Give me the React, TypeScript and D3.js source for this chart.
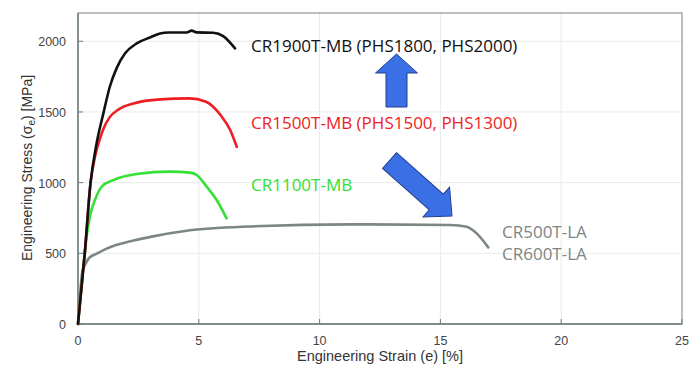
import * as d3 from "d3";
import React from "react";

const W = 700;
const H = 373;
const MARGIN = { left: 78, right: 18, top: 13, bottom: 49 };

const X_TICKS = [0, 5, 10, 15, 20, 25];
const Y_TICKS = [0, 500, 1000, 1500, 2000];

// CR1900T-MB
const cr1900Strain = [0, 0.28, 0.52, 0.75, 1.05, 1.32, 1.6, 1.95, 2.43, 2.98, 3.4, 3.74, 4.5, 4.7, 4.91, 5.6, 6.01, 6.5];
const cr1900Stress = [0, 500, 1000, 1260, 1490, 1680, 1810, 1915, 1985, 2027, 2055, 2062, 2062, 2075, 2063, 2060, 2037, 1950];

// CR1500T-MB
const cr1500Strain = [0, 0.28, 0.52, 0.7, 0.87, 1.05, 1.3, 1.7, 2.3, 3.4, 4.6, 5.3, 5.9, 6.3, 6.57];
const cr1500Stress = [0, 500, 1000, 1180, 1290, 1380, 1460, 1520, 1560, 1589, 1596, 1572, 1478, 1372, 1254];

// CR1100T-MB
const cr1100Strain = [0, 0.28, 0.36, 0.45, 0.55, 0.7, 0.98, 1.46, 2.43, 3.81, 4.64, 4.91, 5.33, 5.74, 6.15];
const cr1100Stress = [0, 500, 620, 720, 800, 877, 971, 1018, 1061, 1078, 1071, 1054, 971, 877, 747];

// CR500T-LA / CR600T-LA
const cr500Strain = [0, 0.2, 0.25, 0.46, 0.8, 1.21, 2.3, 3.1, 4.5, 7.1, 11.3, 15.4, 16.09, 16.5, 16.98];
const cr500Stress = [0, 390, 405, 467, 500, 535, 590, 620, 660, 690, 705, 700, 688, 641, 542];

const SERIES = [
  { name: "CR500T-LA", strain: cr500Strain, stress: cr500Stress, color: "#7c8685" },
  { name: "CR1100T-MB", strain: cr1100Strain, stress: cr1100Stress, color: "#35e035" },
  { name: "CR1500T-MB", strain: cr1500Strain, stress: cr1500Stress, color: "#ee1d23" },
  { name: "CR1900T-MB", strain: cr1900Strain, stress: cr1900Stress, color: "#111111" },
];

const LABEL_FONT = "'Liberation Sans', Arial, sans-serif";
const NOTE_FONT = "'Open Sans', 'Noto Sans', sans-serif";

// arrow polygon pointing along +x from (0,0) to (len,0)
function arrowPath(len: number, shaftW: number, headW: number, headL: number) {
  const s = shaftW / 2;
  const h = headW / 2;
  return `M0,${-s}L${len - headL},${-s}L${len - headL},${-h}L${len},0L${len - headL},${h}L${len - headL},${s}L0,${s}Z`;
}

export default function App() {
  const x = d3.scaleLinear().domain([0, 25]).range([MARGIN.left, W - MARGIN.right]);
  const y = d3.scaleLinear().domain([0, 2200]).range([H - MARGIN.bottom, MARGIN.top]);

  const line = d3
    .line<[number, number]>()
    .x((d) => x(d[0]))
    .y((d) => y(d[1]))
    .curve(d3.curveMonotoneX);

  const x0 = x(0);
  const x1 = x(25);
  const yb = y(0);
  const yt = y(2200);

  // arrows (pixel placement of annotations)
  const upTail = [396.5, 107];
  const upTip = [396.5, 54];
  const dTail = [389.5, 160.5];
  const dTip = [452, 216];
  const upLen = upTail[1] - upTip[1];
  const dLen = Math.hypot(dTip[0] - dTail[0], dTip[1] - dTail[1]);
  const dAng = (Math.atan2(dTip[1] - dTail[1], dTip[0] - dTail[0]) * 180) / Math.PI;

  return (
    <svg width={W} height={H} style={{ position: "absolute", left: 0, top: 0, background: "#fff" }}>
      {/* grid */}
      {X_TICKS.slice(1, -1).map((t) => (
        <line key={"gx" + t} x1={x(t)} x2={x(t)} y1={yt} y2={yb} stroke="#e8ebea" strokeWidth={1} />
      ))}
      {Y_TICKS.slice(1).map((t) => (
        <line key={"gy" + t} x1={x0} x2={x1} y1={y(t)} y2={y(t)} stroke="#e8ebea" strokeWidth={1} />
      ))}

      {/* frame */}
      <rect x={x0} y={yt} width={x1 - x0} height={yb - yt} fill="none" stroke="#8a9694" strokeWidth={1.2} />
      <line x1={x0} x2={x1} y1={yb} y2={yb} stroke="#6f7d7b" strokeWidth={1.4} />
      <line x1={x0} x2={x0} y1={yt} y2={yb} stroke="#6f7d7b" strokeWidth={1.4} />

      {/* ticks */}
      {X_TICKS.map((t) => (
        <g key={"tx" + t}>
          <line x1={x(t)} x2={x(t)} y1={yb} y2={yb - 5} stroke="#6f7d7b" />
          <text x={x(t)} y={yb + 21} textAnchor="middle" fontFamily={LABEL_FONT} fontSize={12.5} fill="#444">
            {t}
          </text>
        </g>
      ))}
      {Y_TICKS.map((t) => (
        <g key={"ty" + t}>
          <line x1={x0} x2={x0 + 5} y1={y(t)} y2={y(t)} stroke="#6f7d7b" />
          <text x={x0 - 12} y={y(t) + 5} textAnchor="end" fontFamily={LABEL_FONT} fontSize={12.5} fill="#444">
            {t}
          </text>
        </g>
      ))}

      {/* axis titles */}
      <text x={380} y={361} textAnchor="middle" fontFamily={LABEL_FONT} fontSize={14.5} fill="#333">
        Engineering Strain (e) [%]
      </text>
      <text
        transform={`translate(32,168) rotate(-90)`}
        textAnchor="middle"
        fontFamily={LABEL_FONT}
        fontSize={14}
        fill="#333"
      >
        Engineering Stress (σ
        <tspan fontSize={10} dy={3}>e</tspan>
        <tspan dy={-3}>) [MPa]</tspan>
      </text>

      {/* curves */}
      {SERIES.map((s) => (
        <path
          key={s.name}
          d={line(s.strain.map((e, i) => [e, s.stress[i]] as [number, number])) || ""}
          fill="none"
          stroke={s.color}
          strokeWidth={2.6}
          strokeLinejoin="round"
          strokeLinecap="round"
        />
      ))}

      {/* annotations */}
      <text x={251} y={52} fontFamily={NOTE_FONT} fontSize={17} fill="#111">
        CR1900T-MB (PHS1800, PHS2000)
      </text>
      <text x={251} y={129} fontFamily={NOTE_FONT} fontSize={17} fill="#ee1d23">
        CR1500T-MB (PHS1500, PHS1300)
      </text>
      <text x={251} y={191} fontFamily={NOTE_FONT} fontSize={17} fill="#35e035">
        CR1100T-MB
      </text>
      <text x={502} y={238} fontFamily={NOTE_FONT} fontSize={17} fill="#7c8685">
        CR500T-LA
      </text>
      <text x={502} y={260} fontFamily={NOTE_FONT} fontSize={17} fill="#7c8685">
        CR600T-LA
      </text>

      <path
        d={arrowPath(upLen, 21, 42, 19)}
        transform={`translate(${upTail[0]},${upTail[1]}) rotate(-90)`}
        fill="#3a6fe6"
        stroke="#23418f"
        strokeWidth={1}
      />
      <path
        d={arrowPath(dLen, 21, 40, 21)}
        transform={`translate(${dTail[0]},${dTail[1]}) rotate(${dAng})`}
        fill="#3a6fe6"
        stroke="#23418f"
        strokeWidth={1}
      />
    </svg>
  );
}
